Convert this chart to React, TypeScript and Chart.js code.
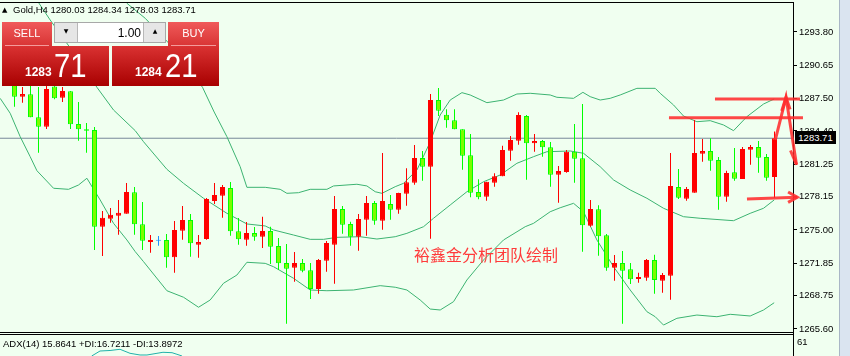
import React, { useEffect, useRef } from 'react';
import { Chart, registerables } from 'chart.js';
Chart.register(...registerables);

// ---- candle data (Gold, H4) ----
const opens = [1288.86,1287.66,1287.88,1285.70,1284.81,1288.62,1287.56,1288.17,1285.06,1284.56,1284.49,1275.31,1276.07,1276.35,1276.54,1278.58,1275.54,1273.86,1273.98,1274.05,1272.40,1274.93,1275.95,1273.60,1274.14,1277.75,1278.25,1278.99,1274.87,1274.08,1274.71,1274.36,1274.90,1273.48,1271.86,1271.42,1271.86,1271.17,1269.39,1272.08,1273.60,1276.99,1275.57,1274.36,1275.97,1277.56,1275.88,1277.47,1276.92,1278.44,1279.49,1281.83,1281.01,1287.34,1285.95,1285.41,1284.56,1282.09,1278.61,1278.16,1279.49,1280.10,1282.53,1283.48,1285.82,1283.23,1283.45,1282.85,1280.25,1280.50,1282.43,1281.81,1275.41,1276.96,1274.49,1271.42,1271.86,1271.26,1270.34,1270.47,1272.15,1270.18,1270.66,1279.08,1277.97,1278.54,1282.24,1282.50,1281.64,1278.16,1280.48,1279.84,1282.62,1282.88,1281.93,1280.03];
const highs = [1289.24,1288.58,1288.67,1288.58,1288.67,1288.86,1288.58,1288.20,1287.15,1285.16,1284.78,1276.80,1277.09,1277.85,1279.46,1279.08,1277.66,1274.52,1274.43,1274.62,1275.85,1277.28,1276.52,1274.52,1278.04,1279.46,1279.27,1279.56,1276.14,1275.76,1275.28,1276.26,1275.31,1274.24,1273.67,1272.91,1272.24,1271.86,1272.24,1273.95,1278.23,1277.28,1275.78,1276.52,1278.23,1277.75,1282.31,1278.32,1278.54,1280.86,1283.07,1282.50,1287.91,1288.48,1286.46,1286.46,1284.56,1284.11,1279.81,1279.58,1280.38,1283.00,1283.92,1286.17,1285.92,1284.11,1283.54,1283.35,1281.07,1282.59,1285.06,1286.96,1277.85,1277.34,1274.62,1272.62,1273.00,1271.86,1270.94,1272.24,1272.65,1270.91,1282.31,1280.79,1279.08,1285.44,1283.64,1283.71,1281.93,1280.63,1282.78,1282.88,1283.07,1283.45,1282.21,1284.34];
const lows = [1286.71,1287.09,1285.70,1282.34,1284.59,1287.41,1287.15,1284.59,1283.48,1282.34,1273.10,1272.53,1275.69,1274.55,1276.54,1274.55,1273.10,1272.84,1273.51,1271.42,1270.94,1274.08,1272.46,1272.37,1274.08,1277.47,1276.16,1274.46,1273.60,1273.51,1273.98,1273.29,1271.77,1271.20,1266.10,1270.09,1270.98,1268.44,1268.95,1271.04,1269.90,1274.65,1273.51,1273.03,1274.46,1275.50,1275.02,1275.97,1276.54,1277.30,1279.30,1279.68,1274.17,1285.82,1284.71,1284.56,1280.72,1278.10,1277.91,1277.78,1279.11,1280.10,1281.58,1283.10,1279.77,1282.43,1281.96,1279.11,1277.59,1280.44,1279.49,1272.94,1275.31,1272.56,1271.13,1270.18,1266.10,1269.87,1269.99,1270.18,1268.95,1269.04,1268.38,1277.94,1277.78,1278.54,1281.48,1280.63,1276.92,1277.68,1279.68,1279.84,1281.20,1280.44,1279.68,1278.03];
const closes = [1287.66,1287.91,1285.70,1284.81,1288.39,1287.50,1288.20,1285.03,1284.56,1284.43,1275.31,1276.16,1276.45,1276.64,1278.61,1275.54,1273.98,1274.05,1273.98,1272.40,1275.00,1275.95,1273.73,1273.86,1277.94,1278.32,1279.08,1274.87,1274.11,1274.71,1274.36,1274.90,1273.41,1271.83,1271.32,1271.86,1271.13,1269.39,1272.15,1273.76,1276.99,1275.50,1274.36,1276.04,1277.56,1275.88,1277.75,1276.92,1278.51,1279.53,1281.83,1281.01,1287.34,1286.33,1285.41,1284.56,1282.05,1278.54,1278.10,1279.58,1280.10,1282.59,1283.54,1285.92,1283.23,1283.45,1282.85,1280.25,1280.60,1282.43,1281.77,1275.44,1276.99,1274.40,1271.42,1271.86,1271.13,1270.31,1270.53,1272.15,1270.25,1270.72,1279.18,1278.06,1278.89,1282.31,1282.50,1281.58,1278.16,1280.41,1279.87,1282.69,1282.88,1281.86,1279.96,1283.71];

// ---- Bollinger bands (candle index, price) ----
const upperIdx = [10.7,14.05,16.34,20.09,23.5,24.96,26.55,28.21,29.05,31.34,33.21,34.05,35.5,36.96,39.05,39.88,42.8,44.05,45.09,45.93,47.59,48.63,50.3,51.96,53.21,54.46,55.93,56.96,59.05,61.13,62.8,64.46,66.96,67.8,69.88,71.05,71.96,73.21,74.46,75.71,77.8,80.09,80.71,82.38,83.63,85.3,86.96,88.63,89.88,91.55,93.63,94.96];
const upperVal = [1299.21,1296.53,1295.10,1292.09,1288.55,1286.20,1283.86,1281.01,1279.05,1279.05,1278.86,1278.48,1278.54,1278.86,1278.86,1279.18,1279.34,1279.18,1278.63,1278.48,1279.11,1279.43,1280.69,1283.35,1285.92,1287.34,1288.04,1287.82,1287.09,1287.34,1287.91,1287.98,1287.82,1287.60,1287.50,1288.07,1287.66,1287.34,1287.50,1287.82,1288.45,1288.45,1287.98,1286.87,1285.82,1285.28,1285.38,1284.97,1284.43,1285.76,1286.96,1287.44];
const midIdx = [1.96,3.21,4.46,7.59,10.3,12.38,15.09,16.13,19.05,21.13,23.63,26.55,29.05,31.34,32.38,34.88,36.96,38.63,40.3,43.21,45.3,47.59,49.05,51.13,52.38,54.46,56.55,58.63,60.71,62.8,64.88,66.55,69.46,71.13,73.21,74.88,76.96,79.05,81.13,83.63,85.71,89.88,91.96,93.63,94.96];
const midVal = [1297.79,1296.36,1294.94,1291.62,1288.55,1286.39,1284.43,1283.38,1280.76,1279.43,1278.01,1276.58,1275.57,1275.38,1275.00,1274.52,1274.11,1274.11,1274.30,1274.36,1274.14,1274.36,1274.68,1275.31,1276.11,1277.37,1278.63,1279.58,1280.22,1281.33,1281.96,1282.43,1282.50,1282.28,1281.01,1279.75,1278.80,1278.01,1277.06,1276.26,1276.11,1275.88,1276.58,1277.06,1277.85];
const lowIdx = [-1.79,-0.54,0.71,1.96,2.8,4.88,6.75,8.0,9.05,10.71,12.38,14.05,15.09,16.13,19.05,21.13,23.0,24.46,26.13,27.8,29.05,31.34,32.38,34.88,36.96,39.05,42.38,45.71,47.59,49.05,50.71,51.96,53.21,54.88,56.55,58.63,61.13,63.84,64.88,66.96,68.21,69.88,71.13,72.8,74.88,76.96,79.05,80.09,81.13,82.8,85.3,87.8,89.46,91.96,93.63,94.96];
const lowVal = [1287.50,1286.08,1283.86,1281.96,1280.63,1278.96,1278.86,1279.27,1279.91,1277.85,1275.63,1274.05,1272.94,1271.99,1269.23,1268.61,1267.66,1268.35,1269.94,1270.72,1271.93,1271.83,1271.51,1270.41,1269.30,1269.23,1269.30,1269.71,1269.56,1269.30,1268.35,1267.49,1267.40,1268.19,1270.25,1272.15,1274.05,1275.31,1275.63,1276.73,1277.11,1277.53,1276.73,1274.05,1271.51,1269.30,1267.24,1266.76,1265.97,1266.61,1266.92,1266.76,1266.99,1266.83,1267.40,1268.09];

// ---- axis ticks ----
const priceTicks = [1293.80, 1290.65, 1287.50, 1284.40, 1281.25, 1278.15, 1275.00, 1271.85, 1268.75, 1265.60];
const lastPrice = 1283.71;

// ---- hand-drawn annotations (candle index, price) ----
const resistHiIdx = [87.56, 98.19];
const resistHi = 1287.44;
const resistLoIdx = [81.81, 98.56];
const resistLo = 1285.66;
const zigIdx = [95.1, 96.44, 97.75];
const zigVal = [1283.55, 1287.60, 1281.20];
const upHeadIdx = [95.9, 96.44, 96.95];
const upHeadVal = [1286.30, 1287.60, 1286.45];
const downHeadIdx = [97.0, 97.75, 98.3];
const downHeadVal = [1282.55, 1281.20, 1282.60];
const supportIdx = [91.56, 97.85];
const supportVal = [1277.94, 1278.10];
const rightHeadIdx = [96.7, 97.85, 96.7];
const rightHeadVal = [1278.60, 1278.10, 1277.62];

// ---- ADX sub-window (visible top part only) ----
const adxIdx = [9.65, 10.69, 11.94, 13.19, 14.44, 15.69, 16.56, 17.81, 18.56, 19.69, 20.31, 20.94];
const adxVal = [0, 21.3, 23.5, 28.6, 11.5, 4.3, 4.3, 11.5, 15.8, 14.1, 7.3, 0];
const adxTopLabel = '61';

const RED = '#ff0000';
const GREEN_FILL = '#7cfc00';
const GREEN_LINE = '#00ff00';
const BLUE = '#1e90ff';
const BAND = '#3cb371';
const ANNO = 'rgba(255,45,45,0.88)';

const FONT = '"Liberation Sans", Arial, sans-serif';

function pts(xs: number[], ys: number[] | number) {
  return xs.map((x, i) => ({ x, y: Array.isArray(ys) ? ys[i] : ys }));
}

const noPad = (s: any) => { s.width = 57; s.paddingTop = 0; s.paddingBottom = 0; };

export default function App() {
  const mainRef = useRef<HTMLCanvasElement>(null);

  useEffect(() => {
    document.body.style.margin = '0';
    const dir = (i: number) => (closes[i] > opens[i] ? 1 : closes[i] < opens[i] ? -1 : 0);
    const fill = opens.map((_, i) => (dir(i) > 0 ? RED : dir(i) < 0 ? GREEN_FILL : BLUE));
    const edge = opens.map((_, i) => (dir(i) > 0 ? RED : dir(i) < 0 ? GREEN_LINE : BLUE));
    const xMin = -14.5 / 8;
    const xMax = (793 - 14.5) / 8;
    // ADX window: 22px tall strip (334..356) under the 331px price area (2..333)
    const adxPpu = 22 / 93.85;
    const adxMin = 23 / adxPpu;
    const adxMax = adxMin + 331 / adxPpu;

    const lineDs = (data: any[], color: string, width: number, extra: any = {}) => ({
      type: 'line' as const,
      data,
      borderColor: color,
      backgroundColor: color,
      borderWidth: width,
      pointRadius: 0,
      tension: 0,
      fill: false,
      order: 0,
      yAxisID: 'y',
      ...extra,
    });

    const main = new Chart(mainRef.current!, {
      type: 'bar',
      data: {
        datasets: [
          lineDs(pts([xMin, xMax], lastPrice), '#778899', 1, { order: 5 }),
          lineDs(pts(upperIdx, upperVal), BAND, 1, { order: 4 }),
          lineDs(pts(midIdx, midVal), BAND, 1, { order: 4 }),
          lineDs(pts(lowIdx, lowVal), BAND, 1, { order: 4 }),
          {
            type: 'bar',
            yAxisID: 'y',
            data: opens.map((_, i) => ({ x: i, y: [lows[i], highs[i]] })),
            backgroundColor: edge,
            borderWidth: 0,
            barThickness: 1,
            grouped: false,
            inflateAmount: 0,
            order: 3,
          },
          {
            type: 'bar',
            yAxisID: 'y',
            data: opens.map((o, i) => ({ x: i, y: [Math.min(o, closes[i]), Math.max(o, closes[i])] })),
            backgroundColor: fill,
            borderColor: edge,
            borderWidth: 1,
            borderSkipped: false,
            barThickness: 5,
            minBarLength: 1,
            grouped: false,
            inflateAmount: 0,
            order: 2,
          },
          lineDs(pts(resistHiIdx, resistHi), ANNO, 3, { clip: false, order: 1 }),
          lineDs(pts(resistLoIdx, resistLo), ANNO, 3, { clip: false, order: 1 }),
          lineDs(pts(zigIdx, zigVal), ANNO, 3, { clip: false, order: 1 }),
          lineDs(pts(upHeadIdx, upHeadVal), ANNO, 3, { clip: false, order: 1 }),
          lineDs(pts(downHeadIdx, downHeadVal), ANNO, 3, { clip: false, order: 1 }),
          lineDs(pts(supportIdx, supportVal), ANNO, 3, { clip: false, order: 1 }),
          lineDs(pts(rightHeadIdx, rightHeadVal), ANNO, 3, { clip: false, order: 1 }),
          lineDs(pts(adxIdx, adxVal), '#20b2aa', 1, { clip: false, order: 0, yAxisID: 'yAdx' }),
        ] as any,
      },
      options: {
        animation: false,
        responsive: false,
        events: [],
        layout: { padding: { top: 2, bottom: 23, left: 0, right: 0 } },
        plugins: { legend: { display: false }, tooltip: { enabled: false } },
        scales: {
          x: { type: 'linear', display: false, min: xMin, max: xMax, offset: false },
          yAdx: { type: 'linear', display: false, min: adxMin, max: adxMax },
          y: {
            type: 'linear',
            display: true,
            position: 'right',
            min: 1265.215,
            max: 1296.649,
            afterBuildTicks: (s: any) => { s.ticks = priceTicks.map((v) => ({ value: v })); },
            afterFit: noPad,
            grid: { display: true, drawOnChartArea: false, drawTicks: true, tickLength: 4, color: '#000' },
            border: { display: true, color: '#000', width: 1 },
            ticks: {
              display: true,
              autoSkip: false,
              padding: 2,
              color: '#000',
              font: { family: FONT, size: 9.5 },
              callback: (v: any) => Number(v).toFixed(2),
            },
          },
        },
      } as any,
    });

    return () => {
      main.destroy();
    };
  }, []);

  const abs = (s: React.CSSProperties): React.CSSProperties => ({ position: 'absolute', ...s });
  const txt: React.CSSProperties = { fontFamily: FONT, whiteSpace: 'nowrap' };

  return (
    <div style={{ position: 'fixed', left: 0, top: 0, width: 850, height: 356, background: '#f0fff0', overflow: 'hidden' }}>
      <canvas ref={mainRef} width={850} height={356} style={abs({ left: 0, top: 0, width: 850, height: 356 })} />
      {/* frame lines */}
      <div style={abs({ left: 0, top: 2, width: 794, height: 1, background: '#000' })} />
      <div style={abs({ left: 0, top: 332, width: 794, height: 1, background: '#000' })} />
      <div style={abs({ left: 0, top: 334, width: 794, height: 1, background: '#000' })} />
      <div style={abs({ left: 793, top: 334, width: 1, height: 22, background: '#000' })} />
      <div style={abs({ left: 839, top: 0, width: 1, height: 356, background: '#a9b6c6' })} />
      <div style={abs({ left: 840, top: 0, width: 10, height: 356, background: '#dae4f0' })} />
      {/* ADX axis label */}
      <div style={abs({ ...txt, left: 797, top: 337, fontSize: 9.5, lineHeight: '9.5px', color: '#000' })}>{adxTopLabel}</div>
      {/* last price tag */}
      <div style={abs({ ...txt, left: 795, top: 131, width: 41, height: 13, background: '#000', color: '#fff', fontSize: 9.5, lineHeight: '13px', textAlign: 'center' })}>1283.71</div>
      {/* header */}
      <div style={abs({ ...txt, left: 2, top: 5, fontSize: 7, lineHeight: '10px', fontFamily: '"DejaVu Sans", sans-serif' })}>▲</div>
      <div style={abs({ ...txt, left: 13, top: 5, fontSize: 9.5, lineHeight: '9.5px', color: '#000' })}>Gold,H4  1280.03 1284.34 1278.03 1283.71</div>
      {/* trade panel */}
      <div style={abs({ left: 2, top: 22, width: 50, height: 24, background: 'linear-gradient(#f05a5a, #d83434)' })} />
      <div style={abs({ left: 5, top: 45, width: 44, height: 1, background: 'rgba(255,200,200,0.7)' })} />
      <div style={abs({ ...txt, left: 2, top: 28, width: 50, textAlign: 'center', color: '#fff', fontSize: 11, lineHeight: '11px' })}>SELL</div>
      <div style={abs({ left: 168, top: 22, width: 51, height: 24, background: 'linear-gradient(#f05a5a, #d83434)' })} />
      <div style={abs({ left: 171, top: 45, width: 45, height: 1, background: 'rgba(255,200,200,0.7)' })} />
      <div style={abs({ ...txt, left: 168, top: 28, width: 51, textAlign: 'center', color: '#fff', fontSize: 11, lineHeight: '11px' })}>BUY</div>
      <div style={abs({ left: 54, top: 22, width: 112, height: 21, background: '#e6e6e6', boxSizing: 'border-box', border: '1px solid #a8a8a8' })} />
      <div style={abs({ left: 77, top: 23, width: 67, height: 19, background: '#fff', boxSizing: 'border-box', borderLeft: '1px solid #b8b8b8', borderRight: '1px solid #b8b8b8' })} />
      <div style={abs({ ...txt, left: 60, top: 27, width: 12, textAlign: 'center', fontSize: 6, lineHeight: '8px', fontFamily: '"DejaVu Sans", sans-serif' })}>▼</div>
      <div style={abs({ ...txt, left: 149, top: 27, width: 12, textAlign: 'center', fontSize: 6, lineHeight: '8px', fontFamily: '"DejaVu Sans", sans-serif' })}>▲</div>
      <div style={abs({ ...txt, left: 90, top: 27, width: 51, textAlign: 'right', fontSize: 12, lineHeight: '12px', color: '#000' })}>1.00</div>
      <div style={abs({ left: 2, top: 46, width: 107, height: 40, background: 'linear-gradient(#da3232, #a80000)' })} />
      <div style={abs({ left: 112, top: 46, width: 107, height: 40, background: 'linear-gradient(#da3232, #a80000)' })} />
      <div style={abs({ ...txt, left: 25, top: 66, fontSize: 12, lineHeight: '12px', fontWeight: 'bold', color: '#fff' })}>1283</div>
      <div style={abs({ ...txt, left: 54, top: 48, fontSize: 34, lineHeight: '34px', color: '#fff', transform: 'scaleX(0.86)', transformOrigin: 'left top' })}>71</div>
      <div style={abs({ ...txt, left: 135, top: 66, fontSize: 12, lineHeight: '12px', fontWeight: 'bold', color: '#fff' })}>1284</div>
      <div style={abs({ ...txt, left: 165, top: 48, fontSize: 34, lineHeight: '34px', color: '#fff', transform: 'scaleX(0.86)', transformOrigin: 'left top' })}>21</div>
      {/* watermark */}
      <div style={abs({ left: 414, top: 246, fontSize: 16, lineHeight: '16px', color: '#ff3b3b', fontFamily: '"Noto Sans CJK SC", sans-serif', whiteSpace: 'nowrap' })}>裕鑫金分析团队绘制</div>
      {/* ADX label */}
      <div style={abs({ ...txt, left: 3, top: 339, fontSize: 9.5, lineHeight: '9.5px', color: '#000' })}>ADX(14) 15.8641 +DI:16.7211 -DI:13.8972</div>
    </div>
  );
}
